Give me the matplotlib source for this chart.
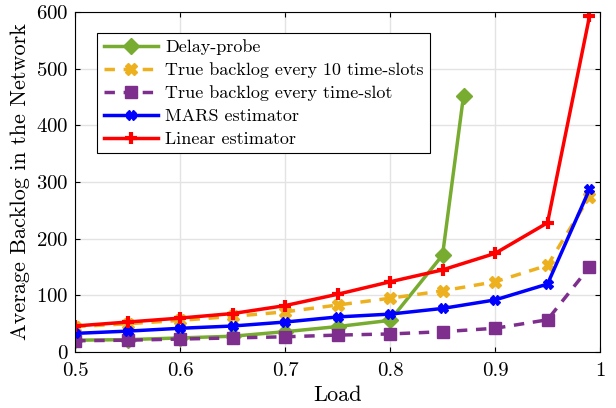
import matplotlib
matplotlib.use("Agg")
import matplotlib.pyplot as plt

load = [0.5, 0.55, 0.6, 0.65, 0.7, 0.75, 0.8, 0.85, 0.9, 0.95, 0.99]
load_probe = [0.5, 0.55, 0.6, 0.65, 0.7, 0.75, 0.8, 0.85, 0.87]

delay_probe = [21, 22, 25, 28, 36, 45, 56, 171, 452]
true_10 = [45, 50, 56, 63, 71, 83, 95, 108, 124, 153, 274]
true_1 = [20, 21, 23, 25, 27, 30, 32, 36, 42, 57, 150]
mars = [33, 37, 42, 46, 53, 62, 67, 77, 92, 120, 287]
linear = [46, 53, 60, 68, 82, 102, 124, 145, 174, 228, 592]

plt.rcParams["font.family"] = "cmr10"
plt.rcParams["axes.formatter.use_mathtext"] = True

fig = plt.figure(figsize=(6.16, 4.08), dpi=100)
ax = fig.add_axes([0.122, 0.137, 0.852, 0.834])

ax.plot(load_probe, delay_probe, color="#77AC30", lw=2.5, marker="D", ms=8,
        label="Delay-probe")
ax.plot(load, true_10, color="#EDB120", lw=2.5, ls=(0, (3, 2.5)), marker="X", ms=8,
        label="True backlog every 10 time-slots")
ax.plot(load, true_1, color="#7E2F8E", lw=2.5, ls=(0, (3, 2.5)), marker="s", ms=8,
        label="True backlog every time-slot")
ax.plot(load, mars, color="blue", lw=2.5, marker="X", ms=7,
        label="MARS estimator")
ax.plot(load, linear, color="red", lw=2.5, marker="+", ms=9, mew=3,
        label="Linear estimator")

ax.set_xlim(0.5, 1)
ax.set_ylim(0, 600)
ax.set_xticks([0.5, 0.6, 0.7, 0.8, 0.9, 1])
ax.set_xticklabels(["0.5", "0.6", "0.7", "0.8", "0.9", "1"])
ax.set_yticks(range(0, 601, 100))
ax.tick_params(direction="in", top=True, right=True, labelsize=15)
ax.tick_params(axis="x", pad=7)
ax.tick_params(axis="y", pad=5)
ax.grid(color="#e3e3e3", lw=1)
ax.set_axisbelow(True)

ax.set_xlabel("Load", fontsize=16, labelpad=4)
ax.set_ylabel("Average Backlog in the Network", fontsize=16, labelpad=4)

leg = ax.legend(loc="upper left", fontsize=13, fancybox=False, framealpha=1,
                edgecolor="black", handlelength=3, borderpad=0.35, labelspacing=0.4,
                handletextpad=0.4, borderaxespad=0, bbox_to_anchor=(0.042, 0.938))
leg.get_frame().set_linewidth(0.8)

plt.savefig("out.png")
